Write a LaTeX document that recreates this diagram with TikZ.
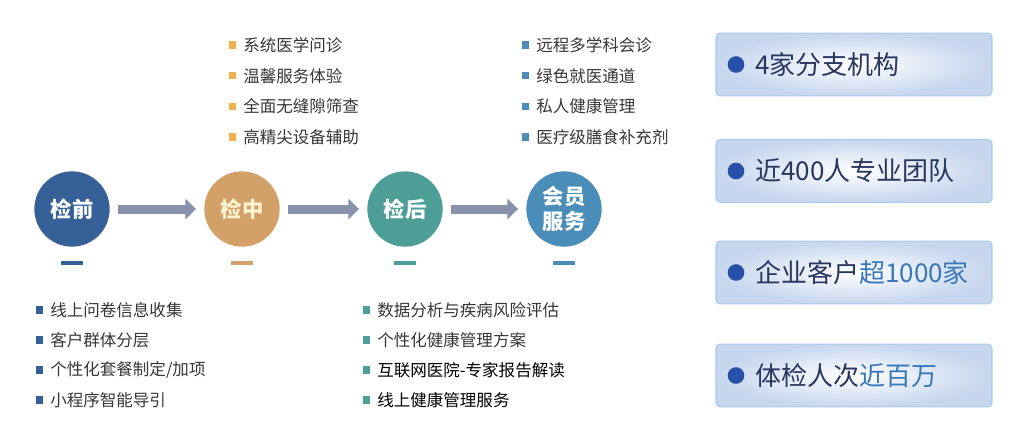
\documentclass[tikz,border=0pt]{standalone}
\usepackage{fontspec}
\setmainfont{Noto Sans CJK SC}
\usepackage{xcolor}
\usepackage{tikz}
\usetikzlibrary{arrows.meta, positioning}
\definecolor{preblue}{RGB}{53, 97, 152}
\definecolor{midtan}{RGB}{212, 160, 106}
\definecolor{midcream}{RGB}{255, 244, 208}
\definecolor{postteal}{RGB}{78, 158, 152}
\definecolor{vipblue}{RGB}{74, 141, 184}
\definecolor{flowgray}{RGB}{136, 146, 170}
\definecolor{listgold}{RGB}{240, 176, 74}
\definecolor{listink}{RGB}{55, 55, 55}
\definecolor{statedge}{RGB}{169, 203, 234}
\definecolor{statfill}{RGB}{198, 214, 238}
\definecolor{statink}{RGB}{41, 54, 95}
\definecolor{statdot}{RGB}{40, 80, 168}
\definecolor{stathi}{RGB}{58, 119, 184}

\tikzset{
  stage/.style={circle, minimum size=56.5pt, inner sep=0pt, text=white,
    font=\fontsize{16}{18.75}\selectfont\bfseries, align=center},
  stagebar/.style={minimum width=17pt, minimum height=3pt, inner sep=0pt},
  flow/.style={line width=6.75pt, flowgray, -{Triangle[length=8pt, width=15pt]},
    shorten <=6pt, shorten >=6pt},
  item/.style={anchor=west, inner sep=0pt, text=listink, font=\fontsize{12.4}{14}\selectfont},
  sqdot/.style={minimum size=5.5pt, inner sep=0pt, left=5pt of #1},
  statbox/.style={rounded corners=3pt, draw=statedge, line width=0.8pt,
    inner color=white, outer color=statfill, minimum width=207pt, minimum height=47pt},
  statmark/.style={circle, fill=statdot, minimum size=12.5pt, inner sep=0pt},
  stattext/.style={anchor=west, inner sep=0pt, text=statink, font=\fontsize{19.5}{22}\selectfont}
}

\begin{document}
\begin{tikzpicture}[x=0.75pt, y=-0.75pt]
  \useasboundingbox (0,0) rectangle (1018,430);
  % stages
  \node[stage, fill=preblue] (pre) at (72,209) {检前};
  \node[stage, fill=midtan, text=midcream] (mid) at (242,209) {检中};
  \node[stage, fill=postteal] (post) at (405,209) {检后};
  \node[stage, fill=vipblue] (vip) at (564,209) {会员\\服务};
  \draw[flow] (pre) -- (mid);
  \draw[flow] (mid) -- (post);
  \draw[flow] (post) -- (vip);
  \foreach \s/\c in {pre/preblue, mid/midtan, post/postteal, vip/vipblue}
    \node[stagebar, fill=\c, below=10pt of \s] (\s Bar) {};
  % lists above
  \foreach \t [count=\i] in {系统医学问诊, 温馨服务体验, 全面无缝隙筛查, 高精尖设备辅助} {
    \node[item] (midItem\i) at (243, {45+30.7*(\i-1)}) {\t};
    \node[sqdot=midItem\i, fill=listgold] (midDot\i) {};
  }
  \foreach \t [count=\i] in {远程多学科会诊, 绿色就医通道, 私人健康管理, 医疗级膳食补充剂} {
    \node[item] (vipItem\i) at (536, {45+30.7*(\i-1)}) {\t};
    \node[sqdot=vipItem\i, fill=vipblue] (vipDot\i) {};
  }
  % lists below
  \foreach \t [count=\i] in {线上问卷信息收集, 客户群体分层, {个性化套餐制定/加项}, 小程序智能导引} {
    \node[item] (preItem\i) at (50, {310+30*(\i-1)}) {\t};
    \node[sqdot=preItem\i, fill=preblue] (preDot\i) {};
  }
  \foreach \t/\c [count=\i] in {数据分析与疾病风险评估/listink, 个性化健康管理方案/listink,
      互联网医院-专家报告解读/black, 线上健康管理服务/black} {
    \node[item, text=\c] (postItem\i) at (377, {310+30*(\i-1)}) {\t};
    \node[sqdot=postItem\i, fill=postteal] (postDot\i) {};
  }
  % key figures
  \foreach \y/\t [count=\i] in {64.5/{4家分支机构}, 171/{近400人专业团队},
      272.5/{企业客户\textcolor{stathi}{超1000家}}, 375.5/{体检人次\textcolor{stathi}{近百万}}} {
    \node[statbox] (stat\i) at (854,\y) {};
    \node[statmark] (statDot\i) at (736,\y) {};
    \node[stattext] (statText\i) at (755,\y) {\t};
  }
\end{tikzpicture}
\end{document}
